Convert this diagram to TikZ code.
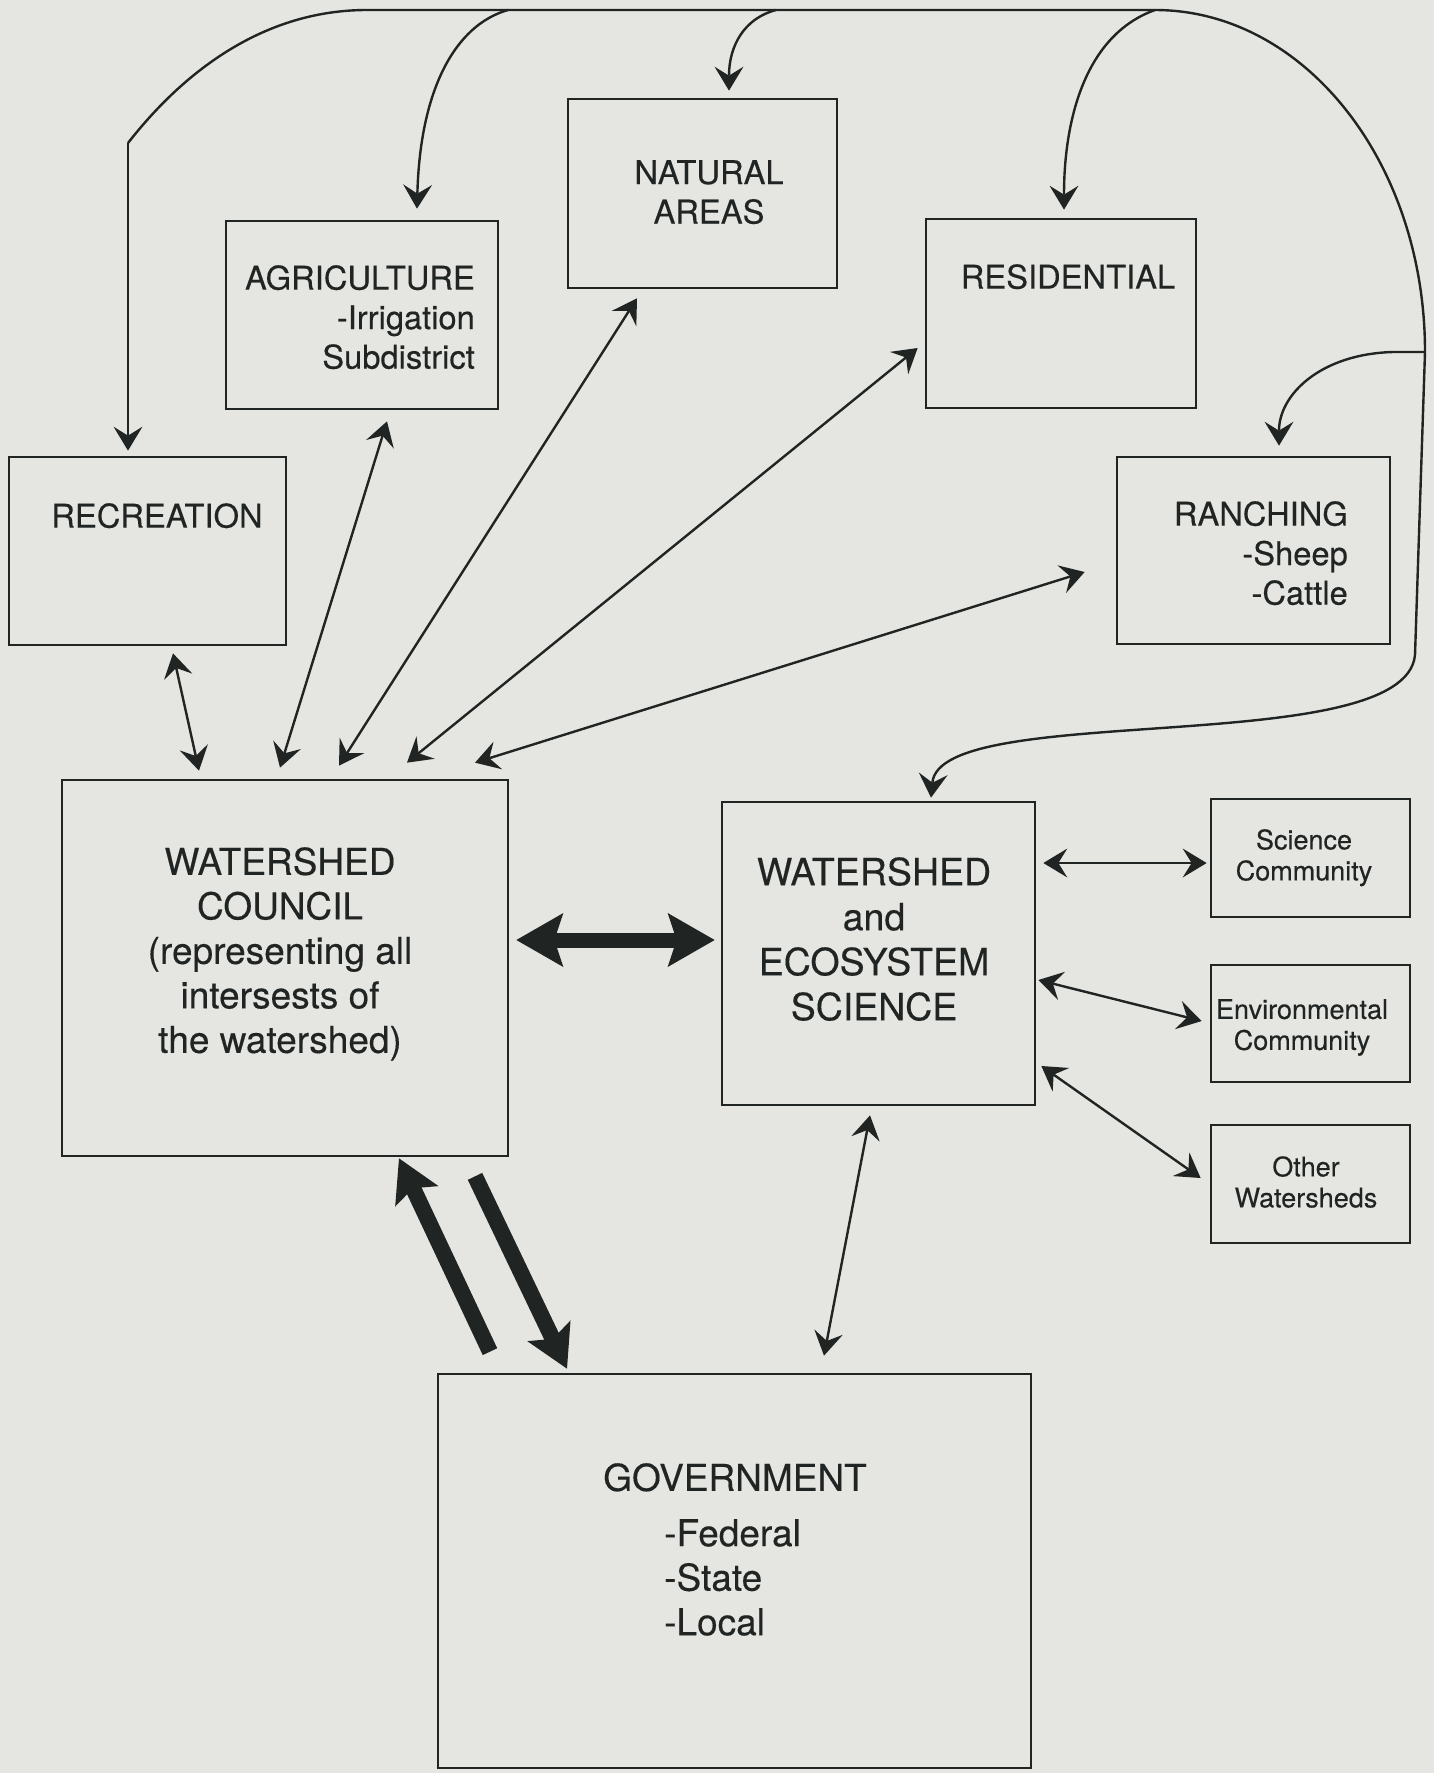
\documentclass[tikz,border=0pt]{standalone}
\usepackage{fontspec}
\setmainfont[FakeBold=0.3]{TeX Gyre Heros}
\usetikzlibrary{arrows.meta}
\definecolor{bg}{RGB}{229,230,226}
\definecolor{ink}{RGB}{32,36,34}
\begin{document}
\begin{tikzpicture}[x=1pt,y=-1pt,
  box/.style={draw=ink, line width=2.7pt, inner sep=0pt, rectangle},
  lbl/.style={text=ink, inner sep=0pt, align=center},
  bigf/.style={font=\fontsize{32.7}{39.5}\selectfont},
  hugef/.style={font=\fontsize{37}{44.5}\selectfont},
  scif/.style={font=\fontsize{37.5}{45}\selectfont},
  smallf/.style={font=\fontsize{27}{31}\selectfont},
  con/.style={draw=ink, line width=2.4pt},
  SmTip/.tip={Stealth[length=24pt,width=29pt,inset=9pt,line width=0pt]},
  BigTip/.tip={Stealth[length=47pt,width=54pt,inset=9pt,line width=0pt]},
  GovTip/.tip={Stealth[length=42pt,width=48pt,inset=9pt,line width=0pt]},
  arr/.style={con, -{SmTip}},
  biarr/.style={con, {SmTip}-{SmTip}},
  fatarr/.style={draw=ink, line width=15pt},
  govarr/.style={draw=ink, line width=16pt, -{GovTip}}
]
\fill[bg] (0,0) rectangle (1434,1773);
\useasboundingbox (0,0) rectangle (1434,1773);

% boxes
\node[box, minimum width=277pt, minimum height=188pt] (rec) at (147.5,551) {};
\node[box, minimum width=272pt, minimum height=188pt] (agr) at (362,315) {};
\node[box, minimum width=269pt, minimum height=189pt] (nat) at (702.5,193.5) {};
\node[box, minimum width=270pt, minimum height=189pt] (res) at (1061,313.5) {};
\node[box, minimum width=273pt, minimum height=187pt] (ran) at (1253.5,550.5) {};
\node[box, minimum width=446pt, minimum height=376pt] (cou) at (285,968) {};
\node[box, minimum width=313pt, minimum height=303pt] (sci) at (878.5,953.5) {};
\node[box, minimum width=199pt, minimum height=118pt] (scicom) at (1310.5,858) {};
\node[box, minimum width=199pt, minimum height=117pt] (env) at (1310.5,1023.5) {};
\node[box, minimum width=199pt, minimum height=118pt] (oth) at (1310.5,1184) {};
\node[box, minimum width=593pt, minimum height=394pt] (gov) at (734.5,1571) {};

% texts
\node[lbl,bigf,anchor=north] (recT) at (157,503) {RECREATION};
\node[lbl,bigf,anchor=north east,align=right] (agrT) at (475,265) {AGRICULTURE\\-Irrigation\hspace*{8pt}\\Subdistrict};
\node[lbl,bigf,anchor=north] (natT) at (709,160) {NATURAL\\AREAS};
\node[lbl,bigf,anchor=north] (resT) at (1068,264) {RESIDENTIAL};
\node[lbl,bigf,anchor=north east,align=right] (ranT) at (1348,501) {RANCHING\\-Sheep\\-Cattle};
\node[lbl,hugef,anchor=north] (couT) at (280,847) {WATERSHED\\COUNCIL\\(representing all\\intersests of\\the watershed)};
\node[lbl,scif,anchor=north] (sciT) at (874,857) {WATERSHED\\and\\ECOSYSTEM\\SCIENCE};
\node[lbl,hugef,anchor=north] (govT) at (735,1463) {GOVERNMENT};
\node[lbl,hugef,anchor=north west,align=left] (govL) at (664,1519) {-Federal\\-State\\-Local};
\node[lbl,smallf,anchor=north] (scicomT) at (1304,829) {Science\\Community};
\node[lbl,smallf,anchor=north] (envT) at (1302,999) {Environmental\\Community};
\node[lbl,smallf,anchor=north] (othT) at (1306,1156) {Other\\Watersheds};

% bus lines
\coordinate (bL) at (128,143);
\coordinate (tL) at (367,10);
\coordinate (tA) at (508,10);
\coordinate (tN) at (776,10);
\coordinate (tR) at (1155,10);
\coordinate (rT) at (1425,352);
\coordinate (rB) at (1415,655);
\draw[con] (bL) .. controls (185,70) and (265,10) .. (tL) -- (tR)
  .. controls (1304,10) and (1425,162) .. (rT) -- (rB);
\draw[arr] (rB) .. controls (1405,760) and (940,700) .. ([shift={(52.5,-3)}]sci.north);
\draw[arr] (bL) -- ([shift={(-19.5,-5)}]rec.north);
\draw[arr] (tA) .. controls (455,25) and (420,90) .. ([shift={(55,-11)}]agr.north);
\draw[arr] (tN) .. controls (745,18) and (729,45) .. ([shift={(26.5,-7)}]nat.north);
\draw[arr] (tR) .. controls (1085,35) and (1064,120) .. ([shift={(3,-8)}]res.north);
\draw[arr] (rT) -- (1393,352) .. controls (1320,354) and (1279,395) .. ([shift={(25.5,-10)}]ran.north);

% links to council
\draw[biarr] ([shift={(25.5,7)}]rec.south) -- ([shift={(-86,-8)}]cou.north);
\draw[biarr] ([shift={(25,11)}]agr.south) -- ([shift={(-5,-11)}]cou.north);
\draw[biarr] ([shift={(-65.5,9)}]nat.south) -- ([shift={(54,-13)}]cou.north);
\draw[biarr] ([shift={(-7,34.5)}]res.west) -- ([shift={(122,-16)}]cou.north);
\draw[biarr] ([shift={(-31,21.5)}]ran.west) -- ([shift={(190,-16)}]cou.north);

% council <-> science
\draw[fatarr, {BigTip}-{BigTip}] ([shift={(7,-28)}]cou.east) -- ([shift={(-6,-13.5)}]sci.west);

% science links
\draw[biarr] ([shift={(7,-90.5)}]sci.east) -- ([shift={(-3,5)}]scicom.west);
\draw[biarr] ([shift={(2,26.5)}]sci.east) -- ([shift={(-8,-2.5)}]env.west);
\draw[biarr] ([shift={(5,112.5)}]sci.east) -- ([shift={(-9,-6)}]oth.west);
\draw[biarr] ([shift={(-8.5,9)}]sci.south) -- ([shift={(89.5,-17)}]gov.north);

% government <-> council
\draw[govarr] ([shift={(-244.5,-21)}]gov.north) -- ([shift={(114,1)}]cou.south);
\draw[govarr] ([shift={(190,19)}]cou.south) -- ([shift={(-167.5,-4)}]gov.north);
\end{tikzpicture}
\end{document}
